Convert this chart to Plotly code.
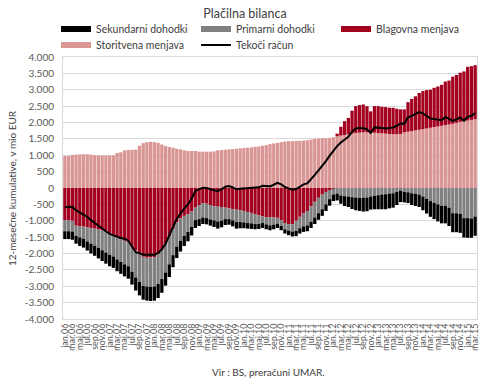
import plotly.graph_objects as go

MONTHS = ["jan", "feb", "mar", "apr", "maj", "jun", "jul", "avg", "sep", "okt", "nov", "dec"]
YEARS = ["06", "07", "08", "09", "10", "11", "12", "13", "14", "15"]
categories = [f"{m}.{y}" for y in YEARS for m in MONTHS][:111]

storitvena = [
    975, 980, 1010, 1020, 1025, 1030, 1030, 1020, 1000, 990, 995, 990,
    990, 995, 1070, 1090, 1150, 1160, 1165, 1170, 1290, 1370, 1400, 1410,
    1400, 1380, 1330, 1280, 1250, 1230, 1200, 1180, 1150, 1130, 1130, 1130,
    1110, 1110, 1110, 1110, 1120, 1150, 1160, 1170, 1180, 1190, 1200, 1210,
    1220, 1230, 1240, 1260, 1270, 1290, 1310, 1340, 1360, 1380, 1400, 1420,
    1430, 1430, 1440, 1440, 1450, 1460, 1480, 1500, 1510, 1520, 1520, 1530,
    1550, 1580, 1600, 1620, 1640, 1660, 1680, 1690, 1700, 1700, 1690, 1690,
    1680, 1670, 1660, 1650, 1640, 1640, 1650, 1700, 1720, 1740, 1760, 1780,
    1800, 1820, 1840, 1860, 1880, 1900, 1920, 1940, 1960, 1990, 2020, 2040,
    2060, 2080, 2100,
]
blagovna = [
    -980, -990, -1000, -1150, -1170, -1180, -1200, -1220, -1240, -1270, -1300, -1330,
    -1380, -1430, -1500, -1560, -1610, -1650, -1800, -1900, -2000, -2100, -2130, -2120,
    -2110, -2020, -1880, -1700, -1480, -1250, -1050, -930, -850, -800, -720, -600,
    -520, -460, -480, -520, -560, -570, -580, -600, -620, -640, -660, -680,
    -700, -730, -760, -800, -840, -870, -900, -890, -900, -910, -980, -1070,
    -1100, -1110, -1000, -880, -780, -700, -560, -420, -300, -200, -120, -60,
    -20, 80, 270, 420, 500, 700, 820, 840, 850, 800, 650, 810,
    820, 810, 810, 800, 810, 780, 750, 700, 900, 980, 1040, 1120,
    1160, 1170, 1160, 1200, 1220, 1250, 1330, 1340, 1440, 1460, 1500, 1520,
    1640, 1640, 1650,
]
primarni = [
    -340, -330, -330, -310, -340, -370, -430, -480, -520, -560, -600, -640,
    -660, -660, -680, -700, -720, -740, -760, -830, -870, -890, -880, -900,
    -900, -910, -900, -880, -850, -800, -740, -680, -610, -540, -460, -380,
    -430, -440, -440, -440, -430, -450, -420, -350, -330, -350, -380, -360,
    -350, -340, -320, -300, -260, -200, -210, -250, -220, -180, -180, -190,
    -200, -220, -310, -350, -390, -440, -470, -480, -470, -450, -380, -280,
    -180, -170, -230, -250, -260, -280, -290, -300, -300, -290, -260, -240,
    -220, -200, -190, -170, -160, -120, -80, -120, -130, -160, -180, -200,
    -260, -330, -400, -450, -500, -550, -540, -600, -770, -770, -790, -920,
    -920, -930, -870,
]
sekundarni = [
    -240, -240, -250, -240, -260, -270, -280, -300, -310, -320, -330, -340,
    -350, -350, -360, -360, -370, -380, -390, -400, -410, -420, -430, -430,
    -430, -430, -420, -400, -390, -370, -350, -330, -310, -290, -270, -240,
    -210, -200, -190, -190, -200, -220, -200, -180, -170, -180, -200, -190,
    -180, -170, -170, -160, -150, -150, -150, -150, -140, -130, -130, -130,
    -140, -150, -160, -160, -170, -180, -190, -200, -200, -200, -200, -200,
    -200, -210, -250, -300, -320, -360, -390, -400, -420, -420, -400, -410,
    -430, -450, -460, -450, -440, -400, -350, -320, -330, -360, -370, -380,
    -420, -450, -480, -500, -520, -530, -540, -560, -580, -580, -580, -590,
    -600, -590, -590,
]
tekoci = [
    -585, -580, -570, -680, -745, -790, -880, -980, -1070, -1160, -1235, -1320,
    -1400, -1445, -1470, -1530, -1550, -1610, -1785, -1960, -1990, -2040, -2040, -2040,
    -2040, -1980, -1870, -1700, -1470, -1190, -940, -760, -620, -500, -320, -90,
    -50, 10, 0, -40, -70, -90, -40, 40, 60, 20, -40, -20,
    -10, -10, -10, 0, 20, 70, 50, 50, 100, 160, 110, 30,
    -10, -50, -30, 50, 110, 140, 260, 400, 540, 670, 820, 990,
    1150, 1280, 1390, 1490, 1560, 1720, 1820, 1830, 1830, 1790, 1680, 1850,
    1850, 1830, 1820, 1830, 1850, 1900, 1970, 1960, 2160, 2200, 2250, 2320,
    2280, 2210, 2120, 2110, 2080, 2070, 2170, 2120, 2050, 2100, 2150, 2050,
    2180, 2200, 2290,
]

y_tickvals = [-4000, -3500, -3000, -2500, -2000, -1500, -1000, -500, 0,
              500, 1000, 1500, 2000, 2500, 3000, 3500, 4000]
y_ticktext = ["-4.000", "-3.500", "-3.000", "-2.500", "-2.000", "-1.500", "-1.000", "-500", "0",
              "500", "1.000", "1.500", "2.000", "2.500", "3.000", "3.500", "4.000"]
x_ticks = categories[::2]

C_SEK = "#000000"
C_PRI = "#808080"
C_BLA = "#A3001F"
C_STO = "#D99694"
FONT = "Lato, 'Open Sans', sans-serif"

L, R, T, B = 63, 13, 57, 68
PW, PH = 490 - L - R, 387 - T - B


def px_x(px):
    return (px - L) / PW


def px_y(py):
    return (387 - B - py) / PH


fig = go.Figure()
for name, vals, col in [("Storitvena menjava", storitvena, C_STO),
                        ("Blagovna menjava", blagovna, C_BLA),
                        ("Primarni dohodki", primarni, C_PRI),
                        ("Sekundarni dohodki", sekundarni, C_SEK)]:
    fig.add_trace(go.Bar(x=categories, y=vals, name=name, marker_color=col,
                         marker_line_width=0, showlegend=False))

fig.add_trace(go.Scatter(x=categories, y=tekoci, mode="lines", name="Tekoči račun",
                         line=dict(color="#000000", width=2), legend="legend2", legendrank=2))

for name, col, lg, rk in [("Sekundarni dohodki", C_SEK, "legend", 1),
                          ("Primarni dohodki", C_PRI, "legend", 2),
                          ("Blagovna menjava", C_BLA, "legend", 3),
                          ("Storitvena menjava", C_STO, "legend2", 1)]:
    fig.add_trace(go.Scatter(x=[categories[0]], y=[None], mode="lines", name=name,
                             line=dict(color=col, width=6), legend=lg, legendrank=rk))

fig.update_layout(
    width=490, height=387,
    margin=dict(l=L, r=R, t=T, b=B, autoexpand=False),
    paper_bgcolor="white", plot_bgcolor="white",
    barmode="relative", bargap=0.12,
    font=dict(family=FONT, size=10, color="#404040"),
    title=dict(text="Plačilna bilanca", x=0.5, xanchor="center", y=1 - 14 / 387,
               yanchor="middle", font=dict(size=12.5, color="#404040")),
    legend=dict(orientation="h", x=px_x(56), xanchor="left", y=px_y(29), yanchor="middle",
                entrywidth=95, entrywidthmode="pixels", font=dict(size=10.5, color="#404040"),
                bgcolor="rgba(0,0,0,0)", traceorder="normal"),
    legend2=dict(orientation="h", x=px_x(56), xanchor="left", y=px_y(45), yanchor="middle",
                 entrywidth=95, entrywidthmode="pixels", font=dict(size=10.5, color="#404040"),
                 bgcolor="rgba(0,0,0,0)", traceorder="normal"),
    xaxis=dict(type="category", tickmode="array", tickvals=x_ticks, ticktext=x_ticks,
               tickangle=-90, tickfont=dict(size=9, color="#595959"), showgrid=False,
               showline=True, mirror=True, linecolor="#d9d9d9", linewidth=1, ticks="",
               automargin=False),
    yaxis=dict(range=[-4000, 4000], tickmode="array", tickvals=y_tickvals, ticktext=y_ticktext,
               tickfont=dict(size=10, color="#595959"), gridcolor="#d9d9d9", gridwidth=1,
               zeroline=False, showline=True, mirror=True, linecolor="#d9d9d9", ticks="",
               ticklabelstandoff=6, automargin=False),
    annotations=[
        dict(text="Vir : BS, preračuni UMAR.", xref="paper", yref="paper",
             x=px_x(268), y=px_y(372), xanchor="center", yanchor="middle",
             showarrow=False, font=dict(size=10, color="#404040")),
        dict(text="12-mesečne kumulative, v mio EUR", xref="paper", yref="paper",
             x=px_x(12), y=px_y(188), xanchor="center", yanchor="middle", textangle=-90,
             showarrow=False, font=dict(size=10, color="#404040")),
    ],
)

fig.write_html("out.html", config={"displayModeBar": False},
               post_script="document.body.style.margin='0px';")
